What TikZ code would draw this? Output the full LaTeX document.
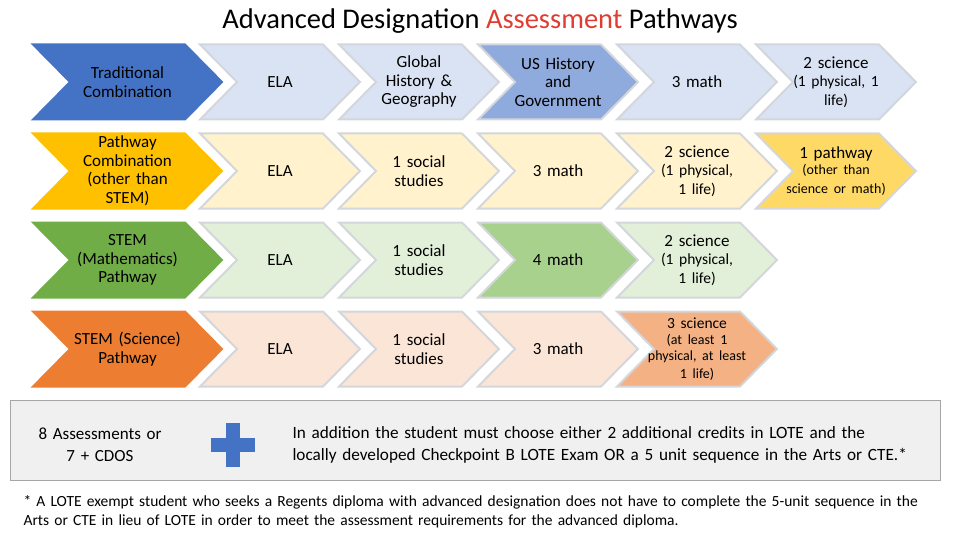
\documentclass[tikz,border=0pt]{standalone}
\usepackage{fontspec}
\setmainfont{Carlito}
\usetikzlibrary{positioning}
\definecolor{blueD}{HTML}{4472C4}
\definecolor{blueM}{HTML}{8FAADC}
\definecolor{blueL}{HTML}{DAE3F3}
\definecolor{goldD}{HTML}{FFC000}
\definecolor{goldM}{HTML}{FFD966}
\definecolor{goldL}{HTML}{FFF2CC}
\definecolor{greenD}{HTML}{70AD47}
\definecolor{greenM}{HTML}{A9D18E}
\definecolor{greenL}{HTML}{E2F0D9}
\definecolor{orangeD}{HTML}{ED7D31}
\definecolor{orangeM}{HTML}{F4B183}
\definecolor{orangeL}{HTML}{FBE5D6}
\definecolor{edgeGray}{HTML}{D3D6DB}
\definecolor{redT}{HTML}{E03C31}
\tikzset{
  cell/.style={align=center,font=\fontsize{17}{18.5}\selectfont,text width=130pt},
}
% chevron: name, left x, center y, width, fill, border, text
\newcommand\chev[7]{%
  \filldraw[fill=#5,draw=#6,line width=2pt,line join=miter]
    (#2,#3-37.5) -- ++(#4-37,0) -- ++(37,37.5) -- ++(-37,37.5) -- ++(-#4+37,0) -- ++(37,-37.5) -- cycle;
  \node[cell] (#1) at (#2+#4/2,#3) {#7};}
\newcommand\sm{\fontsize{15.5}{18}\selectfont}
\newcommand\xs{\fontsize{14}{16}\selectfont}
\begin{document}
\begin{tikzpicture}[x=1pt,y=-1pt]
  \useasboundingbox (0,0) rectangle (960,540);
  %title
  \node[font=\fontsize{28.5}{30}\selectfont] (title) at (480,21) {Advanced Designation \textcolor{redT}{Assessment} Pathways};

  %row 1
  \chev{tradA}{33}{82}{189}{blueD}{blueD}{Traditional\\Combination}
  \chev{tradB}{200}{82}{160}{blueL}{edgeGray}{ELA}
  \chev{tradC}{339}{82}{160}{blueL}{edgeGray}{Global\\History \&\\Geography}
  \chev{tradD}{478}{82}{160}{blueM}{edgeGray}{US History\\and\\Government}
  \chev{tradE}{617}{82}{160}{blueL}{edgeGray}{3 math}
  \chev{tradF}{756}{82}{160}{blueL}{edgeGray}{2 science\\{\sm(1 physical, 1\\life)}}

  %row 2
  \chev{pathA}{33}{171}{189}{goldD}{goldD}{Pathway\\Combination\\(other than\\STEM)}
  \chev{pathB}{200}{171}{160}{goldL}{edgeGray}{ELA}
  \chev{pathC}{339}{171}{160}{goldL}{edgeGray}{1 social\\studies}
  \chev{pathD}{478}{171}{160}{goldL}{edgeGray}{3 math}
  \chev{pathE}{617}{171}{160}{goldL}{edgeGray}{2 science\\{\sm(1 physical,\\1 life)}}
  \chev{pathF}{756}{171}{160}{goldM}{edgeGray}{1 pathway\\{\xs(other than\\science or math)}}

  %row 3
  \chev{mathA}{33}{260}{189}{greenD}{greenD}{STEM\\(Mathematics)\\Pathway}
  \chev{mathB}{200}{260}{160}{greenL}{edgeGray}{ELA}
  \chev{mathC}{339}{260}{160}{greenL}{edgeGray}{1 social\\studies}
  \chev{mathD}{478}{260}{160}{greenM}{edgeGray}{4 math}
  \chev{mathE}{617}{260}{160}{greenL}{edgeGray}{2 science\\{\sm(1 physical,\\1 life)}}

  %row 4
  \chev{sciA}{33}{349}{189}{orangeD}{orangeD}{STEM (Science)\\Pathway}
  \chev{sciB}{200}{349}{160}{orangeL}{edgeGray}{ELA}
  \chev{sciC}{339}{349}{160}{orangeL}{edgeGray}{1 social\\studies}
  \chev{sciD}{478}{349}{160}{orangeL}{edgeGray}{3 math}
  \chev{sciE}{617}{349}{160}{orangeM}{edgeGray}{{\sm 3 science}\\{\xs(at least 1\\physical, at least\\1 life)}}

  %additional requirements
  \filldraw[fill=gray!12,draw=gray!70] (10,400) rectangle (940,480);
  \node[cell,text width=170pt,font=\fontsize{17}{22}\selectfont] (count) at (100,445) {8 Assessments or\\7 + CDOS};
  \fill[blueD] (226,423) rectangle (240,467);
  \fill[blueD] (211,438) rectangle (255,452);
  \node[cell,text width=660pt,align=left,anchor=west,font=\fontsize{17.2}{22}\selectfont] (extra) at (289,445)
    {In addition the student must choose either 2 additional credits in LOTE and the\\locally developed Checkpoint B LOTE Exam OR a 5 unit sequence in the Arts or CTE.*};

  %footnote
  \node[align=left,anchor=west,font=\fontsize{15.5}{19}\selectfont,text width=940pt] (note) at (20,512)
    {* A LOTE exempt student who seeks a Regents diploma with advanced designation does not have to complete the 5-unit sequence in the\\Arts or CTE in lieu of LOTE in order to meet the assessment requirements for the advanced diploma.};
\end{tikzpicture}
\end{document}
